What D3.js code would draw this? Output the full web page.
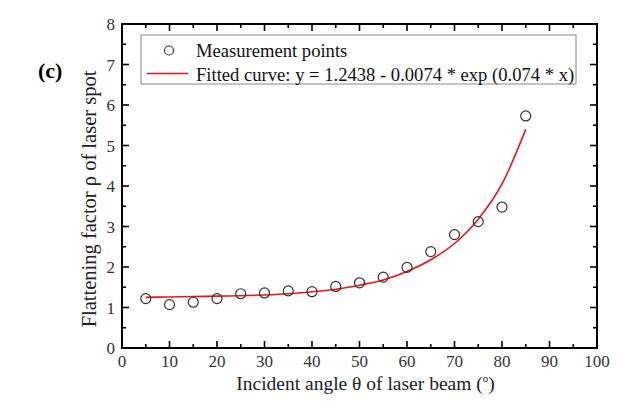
<!DOCTYPE html>
<html><head><meta charset="utf-8">
<script src="https://cdn.jsdelivr.net/npm/d3@7"></script>
<style>body{margin:0;background:#fff}svg{display:block}text{font-family:"Liberation Serif","Times New Roman",serif;}</style>
</head><body><svg id="c" width="623" height="402"></svg>
<script>
const angles = [5,10,15,20,25,30,35,40,45,50,55,60,65,70,75,80,85];
const measured = [1.22,1.07,1.13,1.22,1.34,1.36,1.41,1.39,1.52,1.61,1.75,1.99,2.38,2.80,3.12,3.48,5.73];
const curveX = [5,10,15,20,25,30,35,40,45,50,55,60,65,70,75,80,85];
const curveY = [1.25,1.26,1.27,1.28,1.29,1.31,1.34,1.39,1.45,1.55,1.68,1.89,2.18,2.58,3.18,4.05,5.40];
const xTicks = [0,10,20,30,40,50,60,70,80,90,100];
const yTicks = [0,1,2,3,4,5,6,7,8];
const legendLabels = ["Measurement points","Fitted curve: y = 1.2438 - 0.0074 * exp (0.074 * x)"];

const svg = d3.select("#c");
const L=122, R=597, T=24, B=348;
const x = d3.scaleLinear().domain([0,100]).range([L,R]);
const y = d3.scaleLinear().domain([0,8]).range([B,T]);

// ticks (inward) on all sides
const g = svg.append("g");
const xMinor = d3.range(0,101,5), yMinor = d3.range(0,8.01,0.5);
xMinor.forEach(v=>{
  const len = v%10===0?7:4;
  g.append("line").attr("x1",x(v)).attr("x2",x(v)).attr("y1",B).attr("y2",B-len).attr("stroke","#000").attr("stroke-width",1.6);
  g.append("line").attr("x1",x(v)).attr("x2",x(v)).attr("y1",T).attr("y2",T+len).attr("stroke","#000").attr("stroke-width",1.6);
});
yMinor.forEach(v=>{
  const len = Math.abs(v-Math.round(v))<1e-6?7:4;
  g.append("line").attr("y1",y(v)).attr("y2",y(v)).attr("x1",L).attr("x2",L+len).attr("stroke","#000").attr("stroke-width",1.6);
  g.append("line").attr("y1",y(v)).attr("y2",y(v)).attr("x1",R).attr("x2",R-len).attr("stroke","#000").attr("stroke-width",1.6);
});
svg.append("rect").attr("x",L).attr("y",T).attr("width",R-L).attr("height",B-T).attr("fill","none").attr("stroke","#000").attr("stroke-width",2);

// tick labels
svg.append("g").selectAll("text").data(xTicks).join("text")
  .attr("x",d=>x(d)).attr("y",B+19).attr("text-anchor","middle").attr("font-size",17).attr("fill","#333").text(d=>d);
svg.append("g").selectAll("text").data(yTicks).join("text")
  .attr("x",L-7).attr("y",d=>y(d)+6).attr("text-anchor","end").attr("font-size",17).attr("fill","#333").text(d=>d);

// titles
const xt = svg.append("text").attr("x",(L+R)/2+6).attr("y",390).attr("text-anchor","middle").attr("font-size",19.5).attr("fill","#222");
xt.append("tspan").text("Incident angle θ of laser beam (");
xt.append("tspan").attr("dy",-8).attr("font-size",11).text("o");
xt.append("tspan").attr("dy",8).text(")");
svg.append("text").attr("transform",`translate(96,${(T+B)/2+13}) rotate(-90)`).attr("text-anchor","middle")
  .attr("font-size",20.5).attr("fill","#222").text("Flattening factor ρ of laser spot");
svg.append("text").attr("x",38).attr("y",78).attr("font-size",22).attr("font-weight","bold").text("(c)");

// curve
const line = d3.line().x(d=>x(d[0])).y(d=>y(d[1])).curve(d3.curveMonotoneX);
svg.append("path").datum(curveX.map((v,i)=>[v,curveY[i]])).attr("d",line)
  .attr("fill","none").attr("stroke","#e8141b").attr("stroke-width",1.6);

// points
svg.append("g").selectAll("circle").data(angles.map((v,i)=>[v,measured[i]])).join("circle")
  .attr("cx",d=>x(d[0])).attr("cy",d=>y(d[1])).attr("r",5).attr("fill","none").attr("stroke","#333").attr("stroke-width",1.2);

// legend
const lg = svg.append("g");
lg.append("rect").attr("x",141).attr("y",35).attr("width",435).attr("height",49).attr("fill","#fff").attr("stroke","#888").attr("stroke-width",1);
lg.append("circle").attr("cx",169).attr("cy",50.5).attr("r",4.5).attr("fill","none").attr("stroke","#333").attr("stroke-width",1.2);
lg.append("line").attr("x1",147).attr("x2",188).attr("y1",73.5).attr("y2",73.5).attr("stroke","#e8141b").attr("stroke-width",1.6);
lg.selectAll("text").data(legendLabels).join("text").attr("x",196).attr("y",(d,i)=>57+i*23.5)
  .attr("font-size",18.6).attr("fill","#111").text(d=>d);
</script></body></html>
